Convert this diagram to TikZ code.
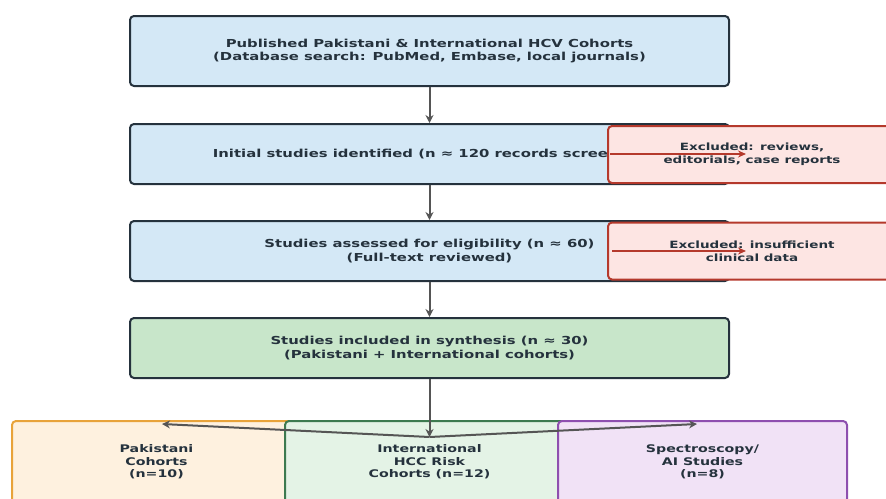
\documentclass[tikz,border=0pt]{standalone}
\usepackage{fontspec}
\newfontfamily\boxfont{DejaVu Sans Bold}[FakeStretch=1.35]
\usetikzlibrary{arrows.meta}
\definecolor{ink}{HTML}{25323D}
\definecolor{bluefill}{HTML}{D4E8F6}
\definecolor{greenfill}{HTML}{C8E6CA}
\definecolor{redfill}{HTML}{FDE5E3}
\definecolor{redline}{HTML}{B5392C}
\definecolor{orangefill}{HTML}{FEF1DF}
\definecolor{orangeline}{HTML}{E8A33A}
\definecolor{mintfill}{HTML}{E4F3E6}
\definecolor{mintline}{HTML}{3D7A50}
\definecolor{purplefill}{HTML}{F1E2F6}
\definecolor{purpleline}{HTML}{8E4FAF}
\definecolor{arrowgray}{HTML}{555555}
\begin{document}
\begin{tikzpicture}[x=1pt,y=-1pt,
  stagebox/.style={draw=ink, line width=2pt, rounded corners=4pt, minimum width=599pt,
    minimum height=60pt, align=center, text=ink, font={\boxfont\fontsize{11}{13.5}\selectfont}},
  exclbox/.style={draw=redline, fill=redfill, line width=2pt, rounded corners=4pt,
    minimum width=288pt, minimum height=57pt, align=center, text=ink,
    font={\boxfont\fontsize{10}{13.3}\selectfont}},
  groupbox/.style={line width=2pt, rounded corners=4pt, minimum width=289pt,
    minimum height=82pt, align=center, text=ink, font={\boxfont\fontsize{10.5}{12.5}\selectfont}},
  flow/.style={draw=arrowgray, line width=2pt, -{Stealth[length=8pt,width=8pt]}},
  exclflow/.style={draw=redline, line width=1.8pt, -{Stealth[length=8pt,width=7pt]}}]
\useasboundingbox (0,0) rectangle (886,498);
\node[stagebox, fill=bluefill, minimum height=70pt] (sources) at (429.5,51)
  {Published Pakistani \& International HCV Cohorts\\(Database search: PubMed, Embase, local journals)};
\node[stagebox, fill=bluefill] (screened) at (429.5,154)
  {Initial studies identified (n ≈ 120 records screened)};
\node[stagebox, fill=bluefill] (eligible) at (429.5,251)
  {Studies assessed for eligibility (n ≈ 60)\\(Full-text reviewed)};
\node[stagebox, fill=greenfill] (included) at (429.5,348)
  {Studies included in synthesis (n ≈ 30)\\(Pakistani + International cohorts)};
\draw[flow] (sources) -- (screened);
\draw[flow] (screened) -- (eligible);
\draw[flow] (eligible) -- (included);
\node[exclbox] (exclreviews) at (752,154.5) {Excluded: reviews,\\editorials, case reports};
\node[exclbox] (excldata) at (752,251) {Excluded: insufficient\\clinical data};
\coordinate (reviewsstart) at (610,154);
\coordinate (datastart) at (612,251);
\draw[exclflow] (reviewsstart) -- (746,154) coordinate (reviewsend);
\draw[exclflow] (datastart) -- (746,251) coordinate (dataend);
\node[groupbox, draw=orangeline, fill=orangefill] (pakistani) at (156.5,462)
  {Pakistani\\Cohorts\\(n=10)};
\node[groupbox, draw=mintline, fill=mintfill] (international) at (429.5,462)
  {International\\HCC Risk\\Cohorts (n=12)};
\node[groupbox, draw=purpleline, fill=purplefill] (spectro) at (702.5,462)
  {Spectroscopy/\\AI Studies\\(n=8)};
\coordinate (split) at (429.5,437);
\coordinate (paktip) at (162,424);
\coordinate (spectrotip) at (697,424);
\draw[flow] (included) -- (split);
\draw[flow] (split) -- (paktip);
\draw[flow] (split) -- (spectrotip);
\end{tikzpicture}
\end{document}
